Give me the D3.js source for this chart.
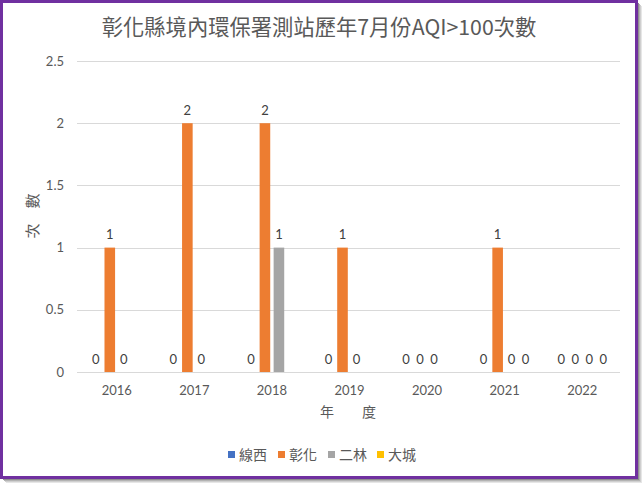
<!DOCTYPE html>
<html><head><meta charset="utf-8">
<script src="https://cdn.jsdelivr.net/npm/d3@7"></script>
<style>body{margin:0;background:#fff}svg{display:block}</style>
</head><body><svg id="c" width="643" height="484"></svg>
<script>
const title = "彰化縣境內環保署測站歷年7月份AQI>100次數";
const years = ["2016","2017","2018","2019","2020","2021","2022"];
const seriesNames = ["線西","彰化","二林","大城"];
const seriesColors = ["#4472C4","#ED7D31","#A5A5A5","#FFC000"];
const xiansi = [0,0,0,0,0,0,0];
const changhua = [1,2,2,1,0,1,0];
const erlin = [0,0,1,0,0,0,0];
const dacheng = [null,null,null,null,null,0,0];
const yTicks = [0,0.5,1,1.5,2,2.5];
const values = [xiansi, changhua, erlin, dacheng];

const svg = d3.select("#c");
const cjk = "'Noto Sans CJK TC','Noto Sans CJK SC',sans-serif";
const num = "Lato,'Open Sans',sans-serif";

// frame shadow + border
const sh = svg.append("g");
[[5,"#e6e6e6"],[4,"#cfcfcf"],[3,"#b3b3b3"],[2,"#8f8f8f"]].forEach(([o,c])=>{
  sh.append("rect").attr("x",o+1).attr("y",o+1).attr("width",636).attr("height",477).attr("fill",c);
});
svg.append("rect").attr("x",0).attr("y",0).attr("width",638).attr("height",479).attr("fill","#fff");
svg.append("rect").attr("x",1.5).attr("y",1.5).attr("width",635).attr("height",476)
  .attr("fill","none").attr("stroke","#7030A0").attr("stroke-width",3);

const L=77, R=620, T=61, B=372;
const x0 = d3.scaleBand().domain(years).range([L,R]).padding(0);
const x1 = d3.scaleBand().domain(seriesNames).range([-28,28]).paddingInner(0.243).paddingOuter(0.1215);
const y = d3.scaleLinear().domain([0,2.5]).range([B,T]);

// gridlines
svg.append("g").selectAll("line").data(yTicks).join("line")
  .attr("x1",L).attr("x2",R).attr("y1",d=>Math.round(y(d))+0.5).attr("y2",d=>Math.round(y(d))+0.5)
  .attr("stroke","#D9D9D9").attr("stroke-width",1);

// y tick labels
svg.append("g").selectAll("text").data(yTicks).join("text")
  .attr("x",64).attr("y",d=>y(d)).attr("dy","0.35em").attr("text-anchor","end")
  .attr("font-family",num).attr("font-size",13).attr("fill","#595959").text(d=>d);

// x tick labels
svg.append("g").selectAll("text").data(years).join("text")
  .attr("x",d=>x0(d)+x0.bandwidth()/2+1).attr("y",395).attr("text-anchor","middle")
  .attr("font-family",num).attr("font-size",13).attr("fill","#595959").text(d=>d);

// bars + labels
const flat = [];
years.forEach((yr,i)=>seriesNames.forEach((s,j)=>{
  const v = values[j][i];
  if(v!==null) flat.push({yr,s,v,c:seriesColors[j]});
}));
const cx = d=>x0(d.yr)+x0.bandwidth()/2+1+x1(d.s);
svg.append("g").selectAll("rect").data(flat.filter(d=>d.v>0)).join("rect")
  .attr("x",cx).attr("width",x1.bandwidth()).attr("y",d=>y(d.v)).attr("height",d=>y(0)-y(d.v))
  .attr("fill",d=>d.c);
svg.append("g").selectAll("text").data(flat).join("text")
  .attr("x",d=>cx(d)+x1.bandwidth()/2).attr("y",d=>y(d.v)-13).attr("dy","0.35em").attr("text-anchor","middle")
  .attr("font-family",num).attr("font-size",13).attr("fill","#404040").text(d=>d.v);

// title
svg.append("text").attr("x",319).attr("y",28).attr("dy","0.35em").attr("text-anchor","middle")
  .attr("font-family",cjk).attr("font-size",21.3).attr("fill","#595959").text(title);

// axis titles
svg.append("text").attr("transform","translate(33,216) rotate(-90)").attr("dy","0.35em").attr("text-anchor","middle")
  .attr("font-family",cjk).attr("font-size",15).attr("fill","#595959").text("次　數");
svg.append("text").attr("x",348).attr("y",412).attr("dy","0.35em").attr("text-anchor","middle")
  .attr("font-family",cjk).attr("font-size",14).attr("fill","#595959").text("年　　度");

// legend
const lg = svg.append("g");
const lx = [228,278,328,377];
seriesNames.forEach((s,j)=>{
  lg.append("rect").attr("x",lx[j]).attr("y",451).attr("width",7).attr("height",7).attr("fill",seriesColors[j]);
  lg.append("text").attr("x",lx[j]+11).attr("y",455).attr("dy","0.35em")
    .attr("font-family",cjk).attr("font-size",14).attr("fill","#595959").text(s);
});
</script></body></html>
